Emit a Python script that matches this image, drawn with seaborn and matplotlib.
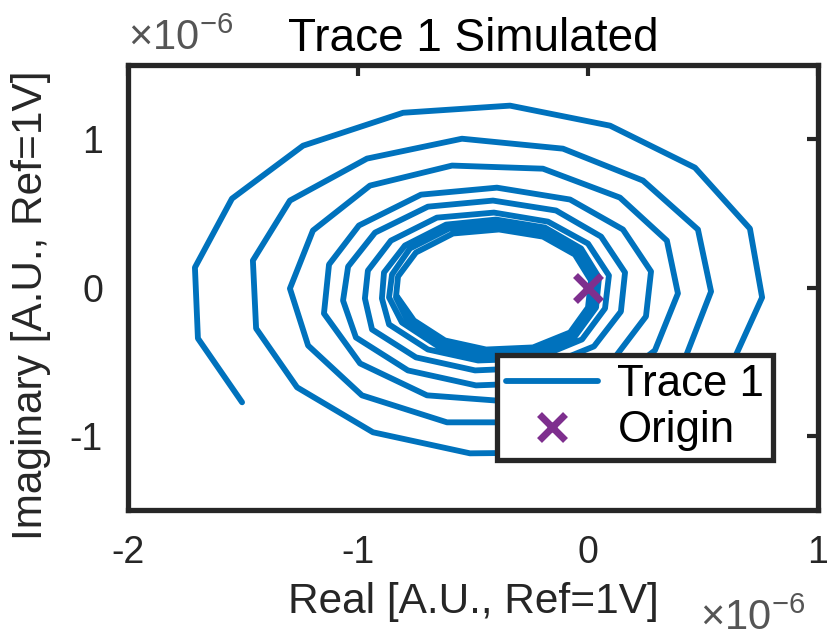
import numpy as np
import pandas as pd
import matplotlib
matplotlib.use("Agg")
import matplotlib.pyplot as plt
from matplotlib.lines import Line2D
import seaborn as sns

# ---- data, values in units of 1e-6 ----
re_u = [
    -1.504, -1.696, -1.709, -1.548, -1.239, -0.804, -0.339, 0.096, 0.465, 0.704, 0.757, 0.617, 0.357, -0.057, -0.513, -0.935, -1.265, -1.443,
    -1.457, -1.296, -0.961, -0.548, -0.109, 0.239, 0.478, 0.535, 0.422, 0.204, -0.187, -0.613, -0.983, -1.217,
    -1.296, -1.196, -0.948, -0.591, -0.196, 0.139, 0.343, 0.391, 0.291, 0.096, -0.296, -0.700, -0.991, -1.148,
    -1.126, -0.996, -0.726, -0.396, -0.078, 0.152, 0.274, 0.252, 0.117, -0.148, -0.487, -0.783, -1.009, -1.065,
    -1.043, -0.926, -0.696, -0.413, -0.139, 0.057, 0.161, 0.143, 0.026, -0.200, -0.491, -0.748, -0.939, -0.970,
    -0.957, -0.857, -0.657, -0.409, -0.174, 0.000, 0.091, 0.074, -0.026, -0.226, -0.478, -0.696, -0.865, -0.896,
    -0.887, -0.796, -0.617, -0.400, -0.187, -0.030, 0.048, 0.035, -0.057, -0.235, -0.461, -0.657, -0.809, -0.865,
    -0.852, -0.774, -0.604, -0.396, -0.196, -0.048, 0.026, 0.013, -0.070, -0.239, -0.452, -0.639, -0.783, -0.835,
    -0.826, -0.748, -0.587, -0.387, -0.196, -0.057, 0.013, 0.000, -0.078, -0.239, -0.443, -0.622, -0.757, -0.830,
]
im_u = [
    -0.774, -0.343, 0.135, 0.599, 0.956, 1.178, 1.226, 1.091, 0.808, 0.397, -0.067, -0.545, -0.929, -1.111, -1.118, -0.976, -0.673, -0.276,
    0.182, 0.586, 0.869, 1.003, 0.936, 0.721, 0.391, -0.027, -0.478, -0.761, -0.909, -0.909, -0.727, -0.391,
    -0.007, 0.384, 0.687, 0.822, 0.801, 0.606, 0.316, -0.040, -0.424, -0.660, -0.774, -0.727, -0.512, -0.175,
    0.155, 0.418, 0.626, 0.673, 0.593, 0.391, 0.108, -0.195, -0.471, -0.640, -0.660, -0.559, -0.337, -0.088,
    0.141, 0.370, 0.545, 0.586, 0.519, 0.343, 0.101, -0.162, -0.397, -0.539, -0.559, -0.471, -0.283, -0.074,
    0.114, 0.316, 0.471, 0.505, 0.444, 0.296, 0.081, -0.141, -0.350, -0.478, -0.492, -0.418, -0.249, -0.074,
    0.101, 0.283, 0.424, 0.458, 0.404, 0.263, 0.067, -0.135, -0.330, -0.444, -0.458, -0.391, -0.236, -0.067,
    0.088, 0.263, 0.397, 0.424, 0.370, 0.242, 0.061, -0.135, -0.316, -0.424, -0.438, -0.370, -0.229, -0.067,
    0.074, 0.236, 0.364, 0.391, 0.343, 0.222, 0.047, -0.135, -0.303, -0.404, -0.418, -0.357, -0.222, -0.061,
]
SCALE = 1e-6
origin_re = [0.0]
origin_im = [0.0]
x_ticks = [-2, -1, 0, 1]
y_ticks = [-1, 0, 1]
x_lim = (-2, 1)
y_lim = (-1.5, 1.5)
title = "Trace 1 Simulated"
x_label = "Real [A.U., Ref=1V]"
y_label = "Imaginary [A.U., Ref=1V]"
legend_labels = ["Trace 1", "Origin"]

BLUE = "#0072BD"
PURPLE = "#7E2F8E"
DARK = "#262626"
GREY = "#555555"

sns.set_theme(style="white")
plt.rcParams["font.family"] = ["Liberation Sans", "DejaVu Sans"]
plt.rcParams["axes.unicode_minus"] = False
plt.rcParams["mathtext.fontset"] = "custom"
plt.rcParams["mathtext.rm"] = "Liberation Sans"
plt.rcParams["mathtext.it"] = "Liberation Sans"

df = pd.DataFrame({
    "re": np.array(re_u) * SCALE,
    "im": np.array(im_u) * SCALE,
})

fig = plt.figure(figsize=(8.28, 6.39), dpi=100)
ax = fig.add_axes([128 / 828, 1 - 510 / 639, 690 / 828, 445 / 639])

sns.lineplot(data=df, x="re", y="im", sort=False, estimator=None,
             color=BLUE, linewidth=4.2, ax=ax, legend=False)
ax.plot(np.array(origin_re) * SCALE, np.array(origin_im) * SCALE,
        linestyle="none", marker="x", markersize=19, markeredgewidth=5,
        color=PURPLE, zorder=5)

ax.set_xlim(x_lim[0] * SCALE, x_lim[1] * SCALE)
ax.set_ylim(y_lim[0] * SCALE, y_lim[1] * SCALE)
ax.set_xticks([t * SCALE for t in x_ticks])
ax.set_xticklabels([str(t) for t in x_ticks])
ax.set_yticks([t * SCALE for t in y_ticks])
ax.set_yticklabels([str(t) for t in y_ticks])

ax.tick_params(axis="both", which="major", direction="in", length=8, width=3,
               color=DARK, labelcolor=DARK, labelsize=27,
               top=True, right=True, pad=18)
for sp in ax.spines.values():
    sp.set_visible(True)
    sp.set_linewidth(3.8)
    sp.set_color(DARK)

ax.set_xlabel(x_label, fontsize=30.5, color=DARK, labelpad=8)
ax.set_ylabel(y_label, fontsize=30.5, color=DARK)
ax.yaxis.set_label_coords(-0.112, 0.46)
ax.set_title(title, fontsize=33, color="black", pad=10)

fig.text(128 / 828, 1 - 50 / 639, r"$\times10^{-6}$", fontsize=30,
         color=GREY, ha="left", va="baseline")
fig.text(700 / 828, 1 - 630 / 639, r"$\times10^{-6}$", fontsize=30,
         color=GREY, ha="left", va="baseline")

handles = [
    Line2D([], [], color=BLUE, linewidth=4.2),
    Line2D([], [], linestyle="none", marker="x", markersize=19,
           markeredgewidth=5, color=PURPLE),
]
leg = ax.legend(handles, legend_labels, loc="upper left",
                bbox_to_anchor=(0.535, 0.348), fontsize=31.5,
                frameon=True, fancybox=False, framealpha=1,
                edgecolor=DARK, handlelength=2.1, handletextpad=0.45,
                borderpad=0.2, labelspacing=0.12, borderaxespad=0)
leg.get_frame().set_linewidth(3.8)
for t in leg.get_texts():
    t.set_color("black")

fig.savefig("out.png", dpi=100)
